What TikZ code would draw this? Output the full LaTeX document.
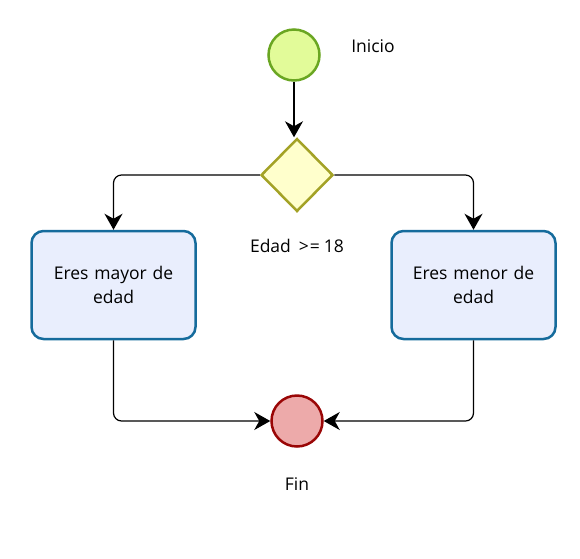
\documentclass[tikz,border=0pt]{standalone}
\usepackage{fontspec}
\setmainfont{Open Sans}
\usetikzlibrary{shapes.geometric, arrows.meta, positioning}

\definecolor{startfill}{HTML}{E2FB99}
\definecolor{startline}{HTML}{6AA622}
\definecolor{gatefill}{HTML}{FFFFCC}
\definecolor{gateline}{HTML}{A3A226}
\definecolor{taskfill}{HTML}{E9EEFD}
\definecolor{taskline}{HTML}{156B9C}
\definecolor{endfill}{HTML}{EDAAAA}
\definecolor{endline}{HTML}{9A0606}

\begin{document}
\begin{tikzpicture}[
        x=1pt, y=-1pt,
    font=\fontsize{17.5}{24}\selectfont,
    event/.style={circle, draw, line width=2.5pt, minimum size=51pt, inner sep=0pt},
    gate/.style={diamond, draw=gateline, fill=gatefill, line width=2.5pt, minimum width=72pt, minimum height=73pt, inner sep=0pt},
    task/.style={rectangle, draw=taskline, fill=taskfill, rounded corners=12pt, line width=2.5pt, minimum width=164pt, minimum height=108pt, text width=150pt, align=center},
    line/.style={draw, -{Stealth[length=16pt,width=18pt,inset=5pt]}, line width=1.2pt, rounded corners=8pt}
    ]
    \useasboundingbox (0,0) rectangle (580,558);

    % nodes
    \node[event, draw=startline, fill=startfill] (start) at (294,55) {};
    \node at (373,46) (startlbl) {Inicio};
    \node[gate] (check) at (297,175) {};
    \node at (297,246) (checklbl) {Edad\hspace{8pt}>\hspace{1pt}=\hspace{4pt}18};
    \node[task] (adult) at (113.5,285) {Eres mayor de\\edad};
    \node[task] (minor) at (473.5,285) {Eres menor de\\edad};
    \node[event, draw=endline, fill=endfill] (finish) at (297,421) {};
    \node at (297,484) (finishlbl) {Fin};

    % lines
    \path[line] (start.south) -- (start.south |- check.north);
    \path[line] (check.west) -| (adult.north);
    \path[line] (check.east) -| (minor.north);
    \path[line] (adult.south) |- (finish.west);
    \path[line] (minor.south) |- (finish.east);

    \end{tikzpicture}
\end{document}
